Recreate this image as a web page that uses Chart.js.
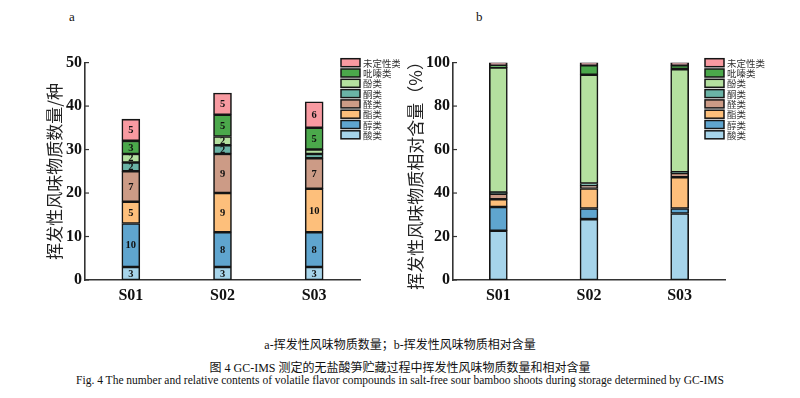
<!DOCTYPE html>
<html>
<head>
<meta charset="utf-8">
<script src="https://cdn.jsdelivr.net/npm/chart.js@4.4.1/dist/chart.umd.min.js"></script>
<style>
body{margin:0;background:#fff;width:800px;height:398px;position:relative;overflow:hidden;font-family:"Liberation Serif","Noto Sans CJK SC",serif}
canvas{position:absolute}
.lbl{position:absolute;font-size:13px;color:#111}
.cap{position:absolute;left:0;width:800px;text-align:center;color:#111;white-space:nowrap}
</style>
</head>
<body>

<div class="lbl" style="left:69px;top:9px">a</div>
<div class="lbl" style="left:476px;top:9px">b</div>

<canvas id="chartA" width="356" height="260" style="left:44px;top:50px"></canvas>
<canvas id="chartB" width="395" height="260" style="left:405px;top:50px"></canvas>

<div class="cap" style="top:335px;font-size:12px">a-挥发性风味物质数量；b-挥发性风味物质相对含量</div>
<div class="cap" style="top:358px;font-size:12px">图 4 GC-IMS 测定的无盐酸笋贮藏过程中挥发性风味物质数量和相对含量</div>
<div class="cap" style="top:374px;font-size:11.5px">Fig. 4 The number and relative contents of volatile flavor compounds in salt-free sour bamboo shoots during storage determined by GC-IMS</div>

<script>

const categories=["S01","S02","S03"]
const classNames=["酸类","醇类","酯类","醛类","酮类","酚类","吡嗪类","未定性类"]
const classColors=["#a6d4ea","#5fa5cf","#fdbf7b","#cc9b86","#6ab3a6","#b4e09f","#4ba84b","#f89aa1"]

// number of compounds
const countAcid=[3,3,3]
const countAlcohol=[10,8,8]
const countEster=[5,9,10]
const countAldehyde=[7,9,7]
const countKetone=[2,2,1]
const countPhenol=[2,2,1]
const countPyrazine=[3,5,5]
const countUnknown=[5,5,6]

// relative content (%)
const pctAcid=[22.7,28.0,30.6]
const pctAlcohol=[10.9,4.9,2.3]
const pctEster=[3.5,9.2,14.4]
const pctAldehyde=[2.6,1.5,1.9]
const pctKetone=[0.5,0.8,0.3]
const pctPhenol=[57.5,50.0,47.5]
const pctPyrazine=[1.1,4.4,1.8]
const pctUnknown=[1.2,1.2,1.2]

const ticksA=[0,10,20,30,40,50]
const ticksB=[0,20,40,60,80,100]

const countSeries=[countAcid,countAlcohol,countEster,countAldehyde,countKetone,countPhenol,countPyrazine,countUnknown]
const pctSeries=[pctAcid,pctAlcohol,pctEster,pctAldehyde,pctKetone,pctPhenol,pctPyrazine,pctUnknown]

function makeDatasets(series){

return series.map((vals,i)=>({
label:classNames[i],
data:vals,
backgroundColor:classColors[i],
borderColor:"#151515",
borderWidth:1.6,
borderSkipped:false,
barThickness:18
}))

}

const insideTicks={
id:"insideTicks",
afterDraw(chart){
let ctx=chart.ctx
let y=chart.scales.y
ctx.save()
ctx.strokeStyle="#333"
ctx.lineWidth=1.2
y.ticks.forEach(t=>{
let py=y.getPixelForValue(t.value)
ctx.beginPath()
ctx.moveTo(y.right,py)
ctx.lineTo(y.right+4,py)
ctx.stroke()
})
ctx.restore()
}
}

const boxLegend={
id:"boxLegend",
afterDraw(chart,args,opts){
let ctx=chart.ctx
ctx.save()
let sets=chart.data.datasets.slice().reverse()
sets.forEach((ds,i)=>{
let cy=opts.top+i*10.3
ctx.fillStyle=ds.backgroundColor
ctx.fillRect(opts.left,cy-4,19,8)
ctx.strokeStyle="#151515"
ctx.lineWidth=1.5
ctx.strokeRect(opts.left,cy-4,19,8)
ctx.fillStyle="#333"
ctx.font="9.5px 'Noto Sans CJK SC'"
ctx.textBaseline="middle"
ctx.fillText(ds.label,opts.left+22,cy+0.5)
})
ctx.restore()
}
}

const segmentLabels={
id:"segmentLabels",
afterDatasetsDraw(chart,args,opts){
if(!opts.show) return
let ctx=chart.ctx
ctx.save()
ctx.font="bold 10.5px 'Liberation Serif'"
ctx.fillStyle="#111"
ctx.textAlign="center"
ctx.textBaseline="middle"
chart.data.datasets.forEach((ds,i)=>{
chart.getDatasetMeta(i).data.forEach((bar,j)=>{
let v=ds.data[j]
if(v<2) return
ctx.fillText(v,bar.x,(bar.y+bar.base)/2+0.5)
})
})
ctx.restore()
}
}

function makeOptions(ticks,title,axisWidth,pad,legendLeft,showLabels){

return {
responsive:false,
animation:false,
layout:{padding:pad},
plugins:{
legend:{display:false},
tooltip:{enabled:false},
boxLegend:{left:legendLeft,top:12.7},
segmentLabels:{show:showLabels}
},
scales:{
x:{
stacked:true,
grid:{display:false,drawTicks:false,tickLength:0},
border:{display:true,color:"#333",width:1.6},
ticks:{color:"#111",padding:6,font:{family:"Liberation Serif",weight:"bold",size:16}},
afterFit(s){s.height=30}
},
y:{
stacked:true,
min:ticks[0],
max:ticks[ticks.length-1],
grid:{display:false,drawTicks:false,tickLength:0},
border:{display:true,color:"#333",width:1.6},
afterBuildTicks(s){s.ticks=ticks.map(v=>({value:v}))},
ticks:{color:"#111",padding:3,font:{family:"Liberation Serif",weight:"bold",size:16}},
title:{display:true,text:title,color:"#222",padding:0,font:{family:"Noto Sans CJK SC",size:17}},
afterFit(s){s.width=axisWidth}
}
}
}

}

new Chart(document.getElementById("chartA"),{
type:"bar",
data:{labels:categories,datasets:makeDatasets(countSeries)},
options:makeOptions(ticksA,"挥发性风味物质数量/种",41,{top:11,right:40,left:0,bottom:0},297,true),
plugins:[insideTicks,boxLegend,segmentLabels]
})

new Chart(document.getElementById("chartB"),{
type:"bar",
data:{labels:categories,datasets:makeDatasets(pctSeries)},
options:makeOptions(ticksB,"挥发性风味物质相对含量（%）",48,{top:10,right:75,left:0,bottom:0},300,false),
plugins:[insideTicks,boxLegend,segmentLabels]
})

</script>
</body>
</html>
